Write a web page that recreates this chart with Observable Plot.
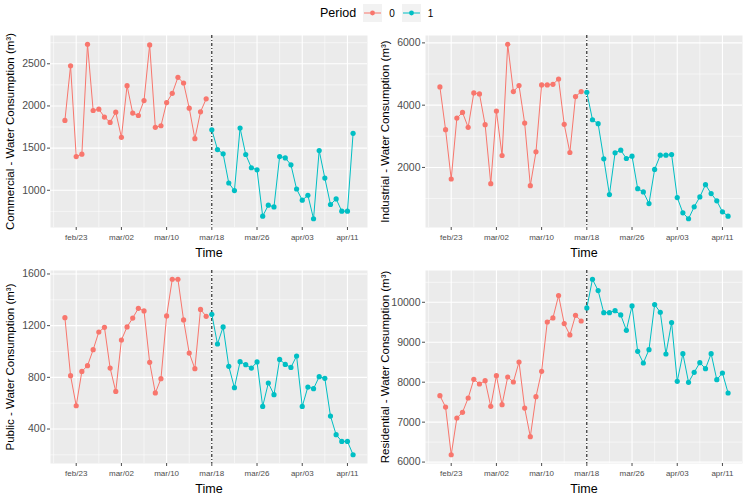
<!DOCTYPE html>
<html>
<head>
<meta charset="utf-8">
<script src="https://cdn.jsdelivr.net/npm/d3@7"></script>
<script src="https://cdn.jsdelivr.net/npm/@observablehq/plot@0.6"></script>
<style>
  html, body { margin: 0; padding: 0; background: #fff; }
  #root { position: relative; width: 750px; height: 495px; overflow: hidden; font-family: "Liberation Sans", Arial, sans-serif; }
  .panel { position: absolute; }
  #legend { position: absolute; left: 320px; top: 4px; height: 18px; display: flex; align-items: center; white-space: nowrap; }
  .lg-title { font-size: 12.5px; color: #000; margin-right: 7px; }
  .lg-key { width: 19px; height: 18px; background: #F2F2F2; display: block; }
  .lg-lab { font-size: 10px; color: #000; margin-left: 7px; margin-right: 7px; }
</style>
</head>
<body>
<div id="root">
  <div id="legend"></div>
</div>
<script>
// Daily dates (2020)
const dates = [
  "2020-02-21","2020-02-22","2020-02-23","2020-02-24","2020-02-25","2020-02-26","2020-02-27","2020-02-28","2020-02-29",
  "2020-03-01","2020-03-02","2020-03-03","2020-03-04","2020-03-05","2020-03-06","2020-03-07","2020-03-08","2020-03-09",
  "2020-03-10","2020-03-11","2020-03-12","2020-03-13","2020-03-14","2020-03-15","2020-03-16","2020-03-17",
  "2020-03-18","2020-03-19","2020-03-20","2020-03-21","2020-03-22","2020-03-23","2020-03-24","2020-03-25","2020-03-26",
  "2020-03-27","2020-03-28","2020-03-29","2020-03-30","2020-03-31","2020-04-01","2020-04-02","2020-04-03","2020-04-04",
  "2020-04-05","2020-04-06","2020-04-07","2020-04-08","2020-04-09","2020-04-10","2020-04-11","2020-04-12"
];
const cutDate = "2020-03-18";
const periods = ["0", "1"];
const periodColors = ["#F8766D", "#00BFC4"];

const commercial = [1828,2476,1400,1428,2732,1946,1962,1868,1805,1926,1628,2241,1915,1887,2064,2724,1746,1765,2040,2150,2339,2272,1974,1612,1930,2084,
  1718,1483,1432,1086,996,1738,1424,1267,1243,693,823,803,1400,1384,1302,1015,882,941,662,1471,1145,831,897,752,752,1675];
const industrial = [4585,3213,1628,3585,3766,3287,4394,4362,3372,1479,3809,2383,5957,4436,4628,3426,1415,2500,4649,4649,4670,4840,3383,2479,4277,4436,
  4415,3532,3404,2277,1128,2468,2553,2287,2362,1319,1213,840,1936,2394,2394,2415,1032,543,351,734,1053,1447,1160,926,574,436];
const publicUse = [1262,813,580,846,890,1014,1151,1187,872,691,1089,1190,1259,1334,1314,916,679,790,1275,1559,1559,1244,988,867,1326,1272,
  1288,1058,1190,885,720,921,898,872,919,575,756,666,939,900,877,965,575,725,712,805,792,500,356,304,304,201];
const residential = [7662,7378,6184,7103,7245,7604,8071,7954,8038,7395,8163,7437,8130,8004,8505,7353,6635,7637,8272,9507,9608,10167,9466,9182,9674,9532,
  9858,10576,10292,9741,9741,9791,9683,9299,9908,8772,8480,8814,9942,9750,8706,9491,8021,8714,7996,8247,8489,8338,8714,8063,8230,7729];

const xTickLabels = ["2020-02-23","2020-03-02","2020-03-10","2020-03-18","2020-03-26","2020-04-03","2020-04-11"];
const xMinorTicks = ["2020-02-19","2020-02-27","2020-03-06","2020-03-14","2020-03-22","2020-03-30","2020-04-07","2020-04-15"];

const panelLabels = [
  "Commercial - Water Consumption (m³)",
  "Industrial - Water Consumption (m³)",
  "Public - Water Consumption (m³)",
  "Residential - Water Consumption (m³)"
];
const yMajor = [[1000,1500,2000,2500],[2000,4000,6000],[400,800,1200,1600],[6000,7000,8000,9000,10000]];
const yMinor = [[750,1250,1750,2250,2750],[1000,3000,5000],[200,600,1000,1400],[6500,7500,8500,9500,10500]];
const series = [commercial, industrial, publicUse, residential];

const parse = d3.utcParse("%Y-%m-%d");
const cut = parse(cutDate);
const d0 = parse(dates[0]), d1 = parse(dates[dates.length - 1]);
const xpad = (d1 - d0) * 0.05;
const xDomain = [new Date(+d0 - xpad), new Date(+d1 + xpad)];
const inX = d => d >= xDomain[0] && d <= xDomain[1];
const fmt = d => d3.utcFormat("%b/%d")(d).toLowerCase();

const layout = [
  {left: 0,   top: 28,  height: 232, mt: 7,  mb: 33},
  {left: 375, top: 28,  height: 232, mt: 7,  mb: 33},
  {left: 0,   top: 260, height: 235, mt: 10, mb: 32},
  {left: 375, top: 260, height: 235, mt: 10, mb: 32}
];

const root = document.getElementById("root");

series.forEach((vals, i) => {
  const data = vals.map((v, k) => {
    const d = parse(dates[k]);
    return {date: d, value: v, period: d >= cut ? periods[1] : periods[0]};
  });
  const [lo, hi] = d3.extent(vals);
  const ypad = (hi - lo) * 0.05;
  const yDomain = [lo - ypad, hi + ypad];
  const inY = v => v >= yDomain[0] && v <= yDomain[1];
  const L = layout[i];
  const chart = Plot.plot({
    width: 375,
    height: L.height,
    marginLeft: 50,
    marginRight: 8,
    marginTop: L.mt,
    marginBottom: L.mb,
    style: {fontFamily: "'Liberation Sans', Arial, sans-serif", background: "transparent", overflow: "visible"},
    x: {type: "utc", domain: xDomain},
    y: {domain: yDomain},
    color: {domain: periods, range: periodColors},
    marks: [
      Plot.frame({fill: "#EBEBEB", stroke: null}),
      Plot.ruleX(xMinorTicks.map(parse).filter(inX), {stroke: "white", strokeWidth: 0.55}),
      Plot.ruleY(yMinor[i].filter(inY), {stroke: "white", strokeWidth: 0.55}),
      Plot.ruleX(xTickLabels.map(parse), {stroke: "white", strokeWidth: 1.1}),
      Plot.ruleY(yMajor[i], {stroke: "white", strokeWidth: 1.1}),
      Plot.axisX({ticks: xTickLabels.map(parse), tickFormat: fmt, tickSize: 3, tickPadding: 4, fontSize: 8, color: "#4D4D4D", label: null}),
      Plot.axisY({ticks: yMajor[i], tickFormat: d => String(d), tickSize: 3, tickPadding: 2, fontSize: 10.5, color: "#4D4D4D", label: null}),
      Plot.ruleX([cut], {stroke: "black", strokeWidth: 1, strokeDasharray: "3,2,1,2"}),
      Plot.line(data, {x: "date", y: "value", z: "period", stroke: "period", strokeWidth: 1}),
      Plot.dot(data, {x: "date", y: "value", fill: "period", r: 2.6, stroke: null}),
      Plot.text([panelLabels[i]], {frameAnchor: "left", textAnchor: "middle", rotate: -90, dx: -40, fontSize: 11.5, fill: "black"}),
      Plot.text(["Time"], {frameAnchor: "bottom", textAnchor: "middle", lineAnchor: "middle", dy: 25, fontSize: 12.5, fill: "black"})
    ]
  });
  chart.classList.add("panel");
  chart.style.left = L.left + "px";
  chart.style.top = L.top + "px";
  root.appendChild(chart);
});

// Legend (key glyphs)
const legend = document.getElementById("legend");
const title = document.createElement("span");
title.className = "lg-title";
title.textContent = "Period";
legend.appendChild(title);
periods.forEach((p, k) => {
  const key = document.createElement("span");
  key.className = "lg-key";
  key.innerHTML = `<svg width="19" height="18" style="display:block"><line x1="1" x2="18" y1="9" y2="9" stroke="${periodColors[k]}" stroke-width="1"/><circle cx="9.5" cy="9" r="2.4" fill="${periodColors[k]}"/></svg>`;
  legend.appendChild(key);
  const lab = document.createElement("span");
  lab.className = "lg-lab";
  lab.textContent = p;
  legend.appendChild(lab);
});
</script>
</body>
</html>
